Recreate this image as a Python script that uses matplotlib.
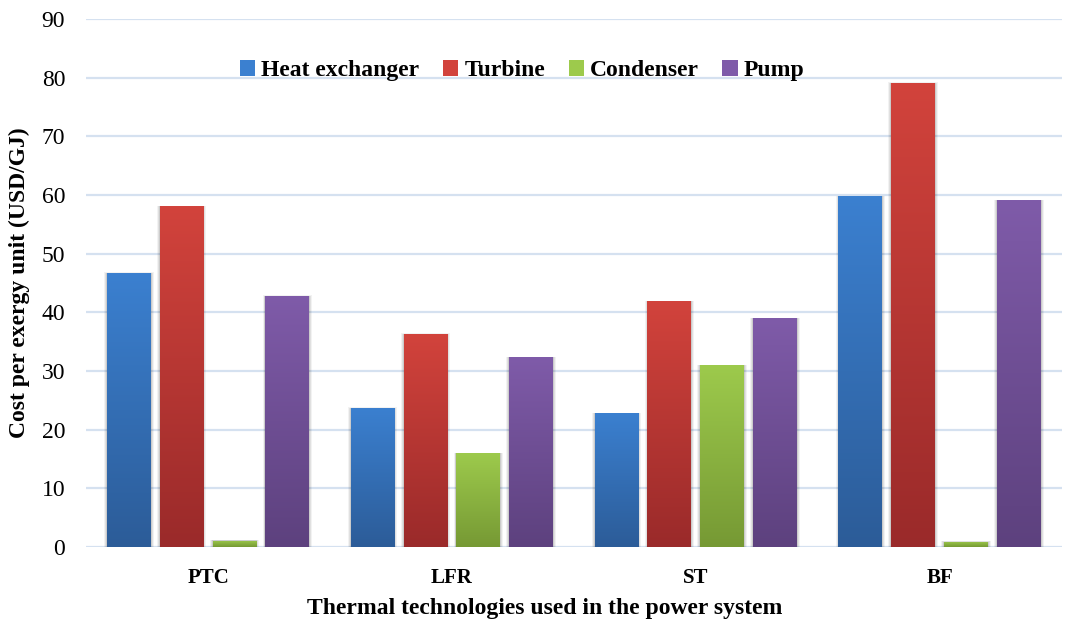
import numpy as np
import matplotlib
matplotlib.use("Agg")
import matplotlib.pyplot as plt
from matplotlib.colors import LinearSegmentedColormap
from matplotlib.patches import Rectangle

plt.rcParams['font.family'] = ['Liberation Serif', 'DejaVu Serif']

# data
technologies = ["PTC", "LFR", "ST", "BF"]
components = ["Heat exchanger", "Turbine", "Condenser", "Pump"]
heat_exchanger = [46.7, 23.7, 22.8, 59.8]
turbine = [58.1, 36.3, 41.9, 79.1]
condenser = [1.1, 16.0, 31.0, 0.9]
pump = [42.8, 32.3, 39.0, 59.1]
yticks = [0, 10, 20, 30, 40, 50, 60, 70, 80, 90]

series = [heat_exchanger, turbine, condenser, pump]
# (top colour, bottom colour) of the gradient fill
grad_colors = [("#3b80d0", "#2c5c98"),
               ("#d2433c", "#9a2a2a"),
               ("#9dca4c", "#769934"),
               ("#7f5ba9", "#5d417e")]

fig = plt.figure(figsize=(10.65, 6.21), dpi=100)
ax = fig.add_axes([0.0808, 0.1192, 0.9162, 0.8502])

x = np.arange(len(technologies))
width = 0.18
step = 0.217
grad = np.linspace(1, 0, 256).reshape(-1, 1)

for i, vals in enumerate(series):
    cmap = LinearSegmentedColormap.from_list("g%d" % i, [grad_colors[i][1], grad_colors[i][0]])
    offs = (i - 1.5) * step
    for xi, v in zip(x, vals):
        left = xi + offs - width / 2
        # soft shadow
        for k, a in zip([0.012, 0.008, 0.004], [0.05, 0.07, 0.09]):
            ax.add_patch(Rectangle((left - k, -0.45), width + 2 * k, v + 0.45 + k * 8,
                                   facecolor="black", edgecolor="none", alpha=a, zorder=2))
        bar = Rectangle((left, 0), width, v, facecolor="none", edgecolor="none", zorder=3)
        ax.add_patch(bar)
        im = ax.imshow(grad, cmap=cmap, extent=[left, left + width, 0, v],
                       aspect="auto", zorder=3, interpolation="bilinear")
        im.set_clip_path(bar)

# legend proxies
for i, name in enumerate(components):
    ax.bar([np.nan], [np.nan], color=grad_colors[i][0], label=name)

ax.set_xlim(-0.5, 3.5)
ax.set_ylim(0, 90)
ax.set_yticks(yticks)
ax.set_xticks(x)
ax.set_xticklabels(technologies, fontsize=15, fontweight="bold")
ax.tick_params(axis="y", labelsize=17, length=0, pad=15)
ax.tick_params(axis="x", length=0, pad=15)
ax.grid(axis="y", color="#d5e1f0", linewidth=1.6, zorder=0)
ax.set_axisbelow(True)
for s in ax.spines.values():
    s.set_visible(False)

ax.set_xlabel("Thermal technologies used in the power system", fontsize=17,
              fontweight="bold")
ax.xaxis.set_label_coords(0.47, -0.097)
ax.set_ylabel("Cost per exergy unit (USD/GJ)", fontsize=17, fontweight="bold", labelpad=8)

ax.legend(loc="upper center", bbox_to_anchor=(0.447, 0.962), ncol=4, frameon=False,
          prop={"size": 17, "weight": "bold"}, handlelength=0.65, handleheight=0.65,
          handletextpad=0.25, columnspacing=1.0)

fig.savefig("out.png", dpi=100)
